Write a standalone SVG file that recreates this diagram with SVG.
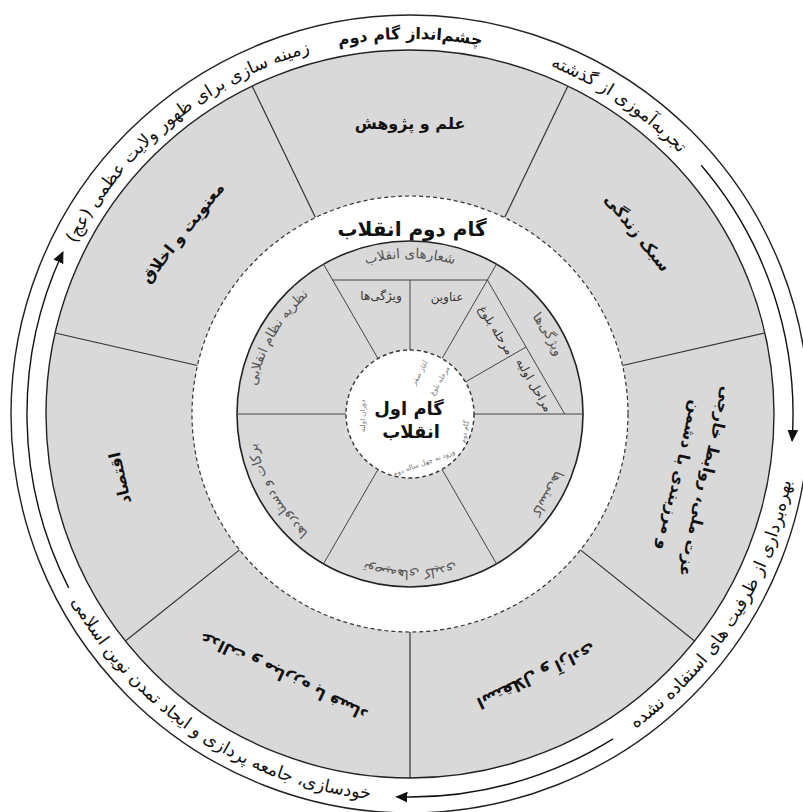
<svg xmlns="http://www.w3.org/2000/svg" width="803" height="812" viewBox="0 0 803 812">
<style>
.fa{font-family:"DejaVu Sans",sans-serif;}
.ring{font-size:17.5px;fill:#111;}
.sec{font-size:16px;font-weight:bold;fill:#111;}
.inn{font-size:13.5px;fill:#555;}
.cell{font-size:12px;fill:#333;}
.tiny{font-size:7px;fill:#777;}
.rad{stroke:#333;stroke-width:1.2;fill:none;}
.irad{stroke:#444;stroke-width:1;fill:none;}
.arr{stroke:#111;stroke-width:1.4;fill:none;}
</style>
<defs>
<marker id="ah" viewBox="0 0 10 10" refX="9" refY="5" markerWidth="12" markerHeight="12" markerUnits="userSpaceOnUse" orient="auto"><path d="M0,0.5 L10,5 L0,9.5 z" fill="#111"/></marker>
<marker id="ahs" viewBox="0 0 10 10" refX="9" refY="5" markerWidth="9" markerHeight="9" markerUnits="userSpaceOnUse" orient="auto"><path d="M0,0.5 L10,5 L0,9.5 z" fill="#111"/></marker>
<path id="pRT" d="M488,47.2 A375,375 0 0 1 720.9,204.3"/>
<path id="pT" d="M281.7,61.6 A375,375 0 0 1 538.3,61.6"/>
<path id="pL" d="M73,249.6 A375,375 0 0 1 316.7,50.8"/>
<path id="pR" d="M596.5,753.1 A387,387 0 0 0 796.4,435.6"/>
<path id="pB" d="M46.3,546.4 A387,387 0 0 0 430.2,800.5"/>
<path id="iTop" d="M332,278.9 A156,156 0 0 1 488,278.9"/>
<path id="iL" d="M254,414 A156,156 0 0 1 332,278.9"/>
<path id="iLL" d="M332,549.1 A156,156 0 0 1 254,414"/>
<path id="iB" d="M488,549.1 A156,156 0 0 1 332,549.1"/>
<path id="iRL" d="M566,414 A156,156 0 0 1 488,549.1"/>
<path id="iRU" d="M488,278.9 A156,156 0 0 1 566,414"/>
</defs>

<g id="outer-ring">
<circle cx="410" cy="414" r="399" fill="#fff" stroke="#222" stroke-width="1.4"/>
<circle cx="410" cy="414" r="364" fill="#d9d9d9" stroke="#222" stroke-width="1.4"/>
</g>

<g id="connectors">
<path class="arr" d="M701.2,165.3 A383,383 0 0 1 792.1,440.7" marker-end="url(#ah)"/>
<path class="arr" d="M613,738.8 A383,383 0 0 1 396.6,796.8" marker-end="url(#ah)"/>
<path class="arr" d="M68.7,587.9 A383,383 0 0 1 62.9,252.1" marker-end="url(#ah)"/>
<path class="arr" d="M403.7,362.4 A52,52 0 0 0 367.9,383.4" marker-end="url(#ahs)"/>
<path class="arr" d="M463.6,426.4 A55,55 0 0 0 456.6,384.9" marker-end="url(#ahs)"/>
<path class="arr" d="M369.4,448.1 A53,53 0 0 0 398.1,465.6" marker-end="url(#ahs)"/>
</g>

<g id="ring-texts" class="fa ring">
<text><textPath href="#pRT" startOffset="50%" text-anchor="middle">تجربه‌آموزی از گذشته</textPath></text>
<text style="font-weight:bold;font-size:16px"><textPath href="#pT" startOffset="50%" text-anchor="middle">چشم‌انداز گام دوم</textPath></text>
<text><textPath href="#pL" startOffset="50%" text-anchor="middle">زمینه سازی برای ظهور ولایت عظمی (عج)</textPath></text>
<text><textPath href="#pR" startOffset="50%" text-anchor="middle">بهره‌برداری از ظرفیت های استفاده نشده</textPath></text>
<text><textPath href="#pB" startOffset="50%" text-anchor="middle">خودسازی، جامعه پردازی و ایجاد تمدن نوین اسلامی</textPath></text>
</g>

<g id="sector-lines">
<line class="rad" x1="410" y1="632" x2="410" y2="778"/>
<line class="rad" x1="239.6" y1="549.9" x2="125.4" y2="641"/>
<line class="rad" x1="197.5" y1="365.5" x2="55.1" y2="333"/>
<line class="rad" x1="315.4" y1="217.6" x2="252.1" y2="86"/>
<line class="rad" x1="504.6" y1="217.6" x2="567.9" y2="86"/>
<line class="rad" x1="622.5" y1="365.5" x2="764.9" y2="333"/>
<line class="rad" x1="580.4" y1="549.9" x2="694.6" y2="641"/>
</g>

<g id="sec-science"><text class="fa sec" x="410" y="123" text-anchor="middle" dominant-baseline="central">علم و پژوهش</text></g>
<g id="sec-lifestyle"><text class="fa sec" text-anchor="middle" dominant-baseline="central" transform="translate(637.5,232.6) rotate(51.43)">سبک زندگی</text></g>
<g id="sec-dignity"><text class="fa sec" text-anchor="middle" transform="translate(693.7,478.7) rotate(102.86)"><tspan x="0" y="-7">عزت ملی، روابط خارجی</tspan><tspan x="0" y="20">و مرزبندی با دشمن</tspan></text></g>
<g id="sec-independence"><text class="fa sec" text-anchor="middle" dominant-baseline="central" transform="translate(536.3,676.2) rotate(154.29)">استقلال و آزادی</text></g>
<g id="sec-justice"><text class="fa sec" text-anchor="middle" dominant-baseline="central" transform="translate(283.7,676.2) rotate(205.71)">عدالت و مبارزه با فساد</text></g>
<g id="sec-economy"><text class="fa sec" text-anchor="middle" dominant-baseline="central" transform="translate(120,478) rotate(257.14)">اقتصاد</text></g>
<g id="sec-spirituality"><text class="fa sec" text-anchor="middle" dominant-baseline="central" transform="translate(182.5,232.6) rotate(308.57)">معنویت و اخلاق</text></g>

<g id="second-step">
<circle cx="410" cy="414" r="218" fill="#fff" stroke="#333" stroke-width="1.2" stroke-dasharray="4 3"/>
<text class="fa" x="412" y="236" text-anchor="middle" style="font-size:20px;font-weight:bold;fill:#111">گام دوم انقلاب</text>
</g>

<g id="inner-disc">
<circle cx="410" cy="414" r="173" fill="#d9d9d9" stroke="#222" stroke-width="1.6"/>
<line class="irad" x1="378" y1="358.6" x2="323.5" y2="264.2"/>
<line class="irad" x1="442" y1="358.6" x2="496.5" y2="264.2"/>
<line class="irad" x1="346" y1="414" x2="237" y2="414"/>
<line class="irad" x1="474" y1="414" x2="583" y2="414"/>
<line class="irad" x1="378" y1="469.4" x2="323.5" y2="563.8"/>
<line class="irad" x1="442" y1="469.4" x2="496.5" y2="563.8"/>
<line class="irad" x1="332.6" y1="280" x2="487.4" y2="280"/>
<line class="irad" x1="487.4" y1="280" x2="564.7" y2="414"/>
<line class="irad" x1="410" y1="350" x2="410" y2="280"/>
<line class="irad" x1="465.4" y1="382" x2="526" y2="347"/>
</g>

<g id="inner-texts" class="fa">
<text class="inn"><textPath href="#iTop" startOffset="50%" text-anchor="middle">شعارهای انقلاب</textPath></text>
<text class="inn"><textPath href="#iL" startOffset="50%" text-anchor="middle">نظریه نظام انقلابی</textPath></text>
<text class="inn"><textPath href="#iLL" startOffset="50%" text-anchor="middle">برکات و دستاوردها</textPath></text>
<text class="inn"><textPath href="#iB" startOffset="50%" text-anchor="middle">توصیه‌های کلیدی</textPath></text>
<text class="inn"><textPath href="#iRL" startOffset="50%" text-anchor="middle">کاستی‌ها</textPath></text>
<text class="inn"><textPath href="#iRU" startOffset="50%" text-anchor="middle">ویژگی‌ها</textPath></text>
<text class="cell" x="381" y="300" text-anchor="middle">ویژگی‌ها</text>
<text class="cell" x="447" y="301" text-anchor="middle">عناوین</text>
<text class="cell" text-anchor="middle" dominant-baseline="central" transform="translate(496,330) rotate(58)">مرحله بلوغ</text>
<text class="cell" text-anchor="middle" dominant-baseline="central" transform="translate(534,385) rotate(60)">مراحل اولیه</text>
</g>

<g id="first-step">
<circle cx="410" cy="414" r="64" fill="#fff" stroke="#333" stroke-width="1.4" stroke-dasharray="4 3"/>
<text class="fa" x="409" y="415" text-anchor="middle" style="font-size:18px;font-weight:bold;fill:#111">گام اول</text>
<text class="fa" x="411" y="438" text-anchor="middle" style="font-size:18px;font-weight:bold;fill:#111">انقلاب</text>
<text class="fa tiny" text-anchor="middle" dominant-baseline="central" transform="translate(420,373) rotate(-60)">آغاز صفر</text>
<text class="fa tiny" text-anchor="middle" dominant-baseline="central" transform="translate(440,381) rotate(-60)">مرحله بلوغ</text>
<text class="fa tiny" text-anchor="middle" dominant-baseline="central" transform="translate(363,416) rotate(-90)">دوران اولیه</text>
<text class="fa tiny" text-anchor="middle" dominant-baseline="central" transform="translate(424,463) rotate(-20)">ورود به چهل ساله دوم</text>
<text class="fa tiny" text-anchor="middle" dominant-baseline="central" transform="translate(465,432) rotate(-80)">گام دوم</text>
</g>
</svg>
